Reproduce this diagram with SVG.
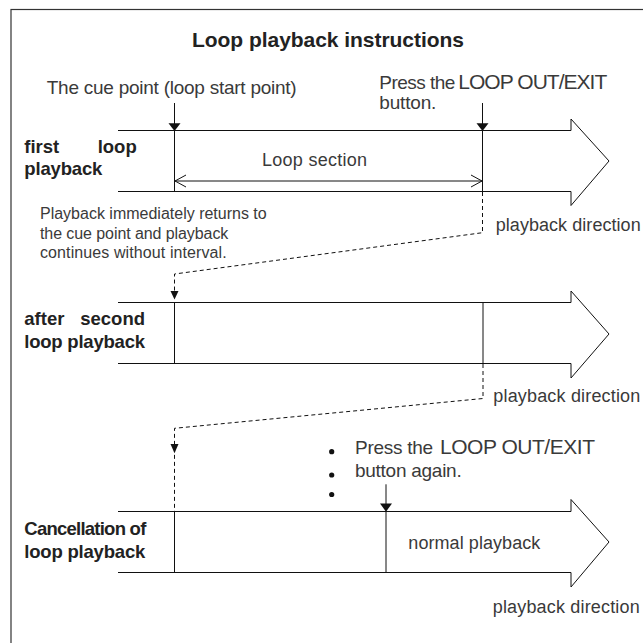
<svg xmlns="http://www.w3.org/2000/svg" width="643" height="643" viewBox="0 0 643 643">
<style>
.ln{fill:none;stroke:#111;stroke-width:1}
.dash{fill:none;stroke:#111;stroke-width:1;stroke-dasharray:4 3}
.tri{fill:#111;stroke:none}
.bold{font-family:"Liberation Sans",Arial,sans-serif;font-weight:bold;fill:#222}
.lbl{font-family:"Liberation Sans",Arial,sans-serif;font-size:18.5px;font-weight:bold;fill:#222}
.txt{font-family:"Liberation Sans",Arial,sans-serif;fill:#3a3a3a}
</style>
<rect x="11" y="9.5" width="660" height="660" fill="#fff" stroke="#333" stroke-width="1.2"/>
<g id="title"><text class="bold" x="192" y="46.5" font-size="21" textLength="272">Loop playback instructions</text></g>

<g id="row1">
<path class="ln" d="M118 130.5 H571 V119 L609 161 L571 205.5 V191.5 H118"/>
<line class="ln" x1="174.5" y1="130.5" x2="174.5" y2="191.5"/>
<line class="ln" x1="482.5" y1="130.5" x2="482.5" y2="191.5"/>
<text class="lbl"><tspan x="24.3" y="153.3">first</tspan><tspan x="136.7" y="153.3" text-anchor="end">loop</tspan></text>
<text class="lbl" x="24.3" y="175" textLength="78">playback</text>
</g>
<g id="row2">
<path class="ln" d="M118 302.5 H571 V291 L609 334 L571 378 V363.5 H118"/>
<line class="ln" x1="174.5" y1="302.5" x2="174.5" y2="363.5"/>
<line class="ln" x1="483" y1="302.5" x2="483" y2="363.5"/>
<text class="lbl"><tspan x="24.3" y="325">after</tspan><tspan x="145" y="325" text-anchor="end">second</tspan></text>
<text class="lbl" x="24.3" y="348.3" textLength="120.7">loop playback</text>
</g>
<g id="row3">
<path class="ln" d="M118 511.5 H571 V499.5 L609 542 L571 587 V572.5 H118"/>
<line class="ln" x1="174.5" y1="511.5" x2="174.5" y2="572.5"/>
<line class="ln" x1="386" y1="511.5" x2="386" y2="572.5"/>
<text class="lbl" x="24.3" y="535" textLength="122">Cancellation of</text>
<text class="lbl" x="24.3" y="558.3" textLength="121">loop playback</text>
<text class="txt" x="408.3" y="549" font-size="18" textLength="132">normal playback</text>
</g>

<g id="annotations">
<text class="txt" x="46.7" y="94.3" font-size="19" textLength="250">The cue point (loop start point)</text>
<text class="txt" x="379.3" y="89.3" font-size="19" textLength="76">Press the</text>
<text class="txt" x="458.3" y="89.3" font-size="21" textLength="149">LOOP OUT/EXIT</text>
<text class="txt" x="379.3" y="109" font-size="19" textLength="57">button.</text>
<text class="txt" x="262" y="166" font-size="18" textLength="105">Loop section</text>
<text class="txt" x="40" y="219" font-size="16" textLength="226.7">Playback immediately returns to</text>
<text class="txt" x="40" y="239" font-size="16" textLength="188.3">the cue point and playback</text>
<text class="txt" x="40" y="257.7" font-size="16" textLength="186.7">continues without interval.</text>
<text class="txt" x="495.7" y="230.7" font-size="18" textLength="145">playback direction</text>
<text class="txt" x="493.3" y="402.3" font-size="18" textLength="147">playback direction</text>
<text class="txt" x="492.7" y="613.3" font-size="18" textLength="147">playback direction</text>
<circle class="tri" cx="331.7" cy="451.7" r="2.6"/>
<circle class="tri" cx="331.7" cy="475" r="2.6"/>
<circle class="tri" cx="331.7" cy="494.5" r="2.6"/>
<text class="txt" x="355" y="454" font-size="19" textLength="78">Press the</text>
<text class="txt" x="440" y="454" font-size="21" textLength="155">LOOP OUT/EXIT</text>
<text class="txt" x="355" y="477.3" font-size="19" textLength="106.7">button again.</text>
</g>

<g id="connectors">
<line class="ln" x1="174.5" y1="103" x2="174.5" y2="124"/>
<polygon class="tri" points="168.5,123.3 180.5,123.3 174.5,131"/>
<line class="ln" x1="482.5" y1="103" x2="482.5" y2="124"/>
<polygon class="tri" points="476.5,123.3 488.5,123.3 482.5,131"/>
<line class="ln" x1="386" y1="484.3" x2="386" y2="504"/>
<polygon class="tri" points="380,503.5 392,503.5 386,511.7"/>
<line class="ln" x1="175" y1="181" x2="482" y2="181"/>
<path class="ln" d="M186 175 L175 181 L186 187 M471 175 L482 181 L471 187"/>
<path class="dash" d="M482.5 192 V232.7 L174.5 274 V291"/>
<polygon class="tri" points="170.5,291 178.5,291 174.5,299.5"/>
<path class="dash" d="M483 364 V398.5 L174.5 428.3 V511"/>
<polygon class="tri" points="170.5,444 178.5,444 174.5,453.3"/>
</g>
</svg>
